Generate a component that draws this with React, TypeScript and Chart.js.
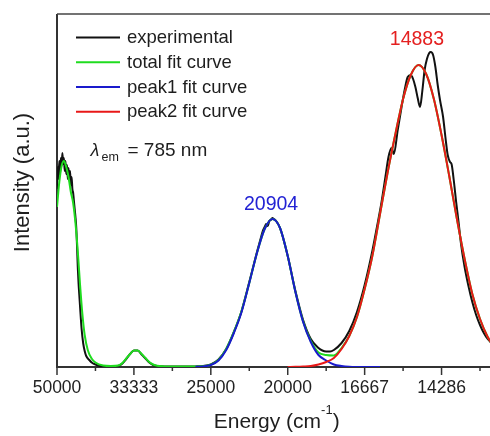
import React, { useEffect, useRef } from 'react';
import { Chart, registerables } from 'chart.js';

Chart.register(...registerables);

// ---------- data (x in nm, linear in wavelength; labels shown as energy in cm-1) ----------
const seriesNames = ['experimental', 'total fit curve', 'peak1 fit curve', 'peak2 fit curve'];
const seriesColors = ['#111111', '#1fdc1f', '#1a1acc', '#e81818'];

const majorTickNm = [200, 300, 400, 500, 600, 700];
const tickLabels = ['50000', '33333', '25000', '20000', '16667', '14286'];
const minorTickNm = [250, 350, 450, 550, 650, 750];

const experimentalNm = [
  200, 201, 202, 203, 204, 205, 206, 207, 208, 209, 210, 211, 212, 213, 214, 215, 216, 217, 218, 219,
  220, 221, 222, 223, 224, 225, 226, 227, 228, 229, 230, 232, 234, 236, 238, 242, 246, 250, 256, 265,
  275, 280, 285, 290, 295, 300, 305, 310, 315, 320, 325, 330, 340, 360, 380, 390, 400, 410, 420, 430,
  440, 450, 460, 465, 468, 470, 472, 474, 476, 478, 480, 482, 485, 490, 500, 510, 520, 530, 540, 545,
  550, 555, 560, 570, 580, 590, 600, 610, 616, 622, 627, 631, 635, 638, 643, 648, 652, 656, 660, 663,
  666, 669, 672, 675, 678, 681, 684, 686, 689, 692, 695, 698, 702, 705, 708, 711, 713, 716, 719, 722,
  725, 730, 735, 740, 745, 750, 755, 760, 765,
];
const experimental = [
  178, 200, 188, 206, 193, 209, 201, 214, 203, 209, 196, 206, 193, 202, 188, 199, 186, 196, 182, 190,
  178, 174, 166, 158, 150, 140, 122, 100, 84, 72, 60, 38, 24, 16, 11, 7, 4, 2.5, 1, 0.3,
  0.5, 1.2, 3.5, 8, 13, 16.5, 16.5, 12.5, 8.5, 4.5, 2, 1, 0.5, 0.4, 0.6, 1, 2.5, 7.5, 18, 35,
  56, 85, 115, 129, 137, 140, 143, 141, 146, 147, 149, 148, 146, 139, 111, 76, 47, 28, 19, 16.5,
  15.5, 15.5, 17, 24, 36, 55, 82, 116, 140, 165, 190, 210, 219, 213, 237, 260, 277, 290, 292, 288,
  280, 269, 260, 276, 297, 308, 314, 315, 312, 300, 282, 267, 250, 230, 212, 205, 203, 186, 165, 146,
  125, 100, 81, 65, 52, 42, 34, 28, 24,
];

const totalNm = [
  200, 203, 206, 209, 212, 215, 218, 221, 224, 227, 230, 233, 236, 240, 245, 250, 260, 270, 280, 285,
  290, 295, 300, 305, 310, 315, 320, 325, 330, 340, 350, 370, 390, 400, 410, 420, 430, 440, 450, 460,
  470, 480, 490, 500, 510, 520, 530, 540, 550, 560, 570, 580, 590, 600, 610, 620, 630, 640, 650, 660,
  670, 680, 690, 700, 710, 720, 730, 740, 750, 760, 765,
];
const totalFit = [
  160, 185, 201, 206, 200, 190, 175, 164, 144, 116, 82, 53, 32, 17, 8.5, 4.5, 1.5, 1, 1.5, 4,
  8.5, 13, 16.5, 16.5, 13, 9, 5, 2.5, 1.2, 0.6, 0.5, 0.5, 0.8, 2.3, 7, 18, 35, 56, 84, 114,
  138, 148, 139, 111, 75, 45.5, 26, 14.5, 12, 11.5, 19, 31, 50, 78, 111, 153, 195, 233, 268, 292,
  302, 293, 268, 232, 191, 148, 108, 73, 48, 30, 24,
];

const peak1Nm = [380, 390, 400, 410, 420, 430, 440, 450, 460, 470, 480, 490, 500, 510, 520, 530, 540, 550, 560, 570, 580, 600, 620];
const peak1Fit = [0.2, 0.6, 2, 6.5, 17, 34, 55, 84, 114, 138, 148, 139, 111, 75, 45, 25, 12, 6.5, 2.5, 1, 0.3, 0, 0];

const peak2Nm = [500, 510, 520, 530, 540, 550, 560, 570, 580, 590, 600, 610, 620, 630, 640, 650, 660, 670, 680, 690, 700, 710, 720, 730, 740, 750, 760, 765];
const peak2Fit = [0, 0.2, 0.5, 1, 2.5, 5, 9, 18, 31, 50, 78, 111, 153, 195, 233, 268, 292, 302, 293, 268, 232, 191, 148, 108, 73, 48, 30, 24];

const peakLabels = ['20904', '14883'];

// ---------- drawing helpers ----------
const FONT = '"Liberation Sans", Arial, Helvetica, sans-serif';
const TEXT = '#1e1e1e';

const toPoints = (xs: number[], ys: number[]) => xs.map((x, i) => ({ x, y: ys[i] }));

const decorPlugin = {
  id: 'decor',
  beforeDatasetsDraw(chart: any) {
    const { ctx, chartArea: a, scales } = chart;
    const xs = scales.x;
    ctx.save();
    ctx.strokeStyle = '#333';
    ctx.lineWidth = 2;
    ctx.beginPath();
    ctx.moveTo(a.left, a.top);
    ctx.lineTo(a.left, a.bottom + 1);
    ctx.stroke();
    ctx.beginPath();
    ctx.moveTo(a.left - 1, a.bottom);
    ctx.lineTo(a.right, a.bottom);
    ctx.stroke();
    ctx.strokeStyle = '#444';
    ctx.lineWidth = 1.5;
    ctx.beginPath();
    ctx.moveTo(a.left, a.top);
    ctx.lineTo(a.right, a.top);
    ctx.stroke();
    ctx.strokeStyle = '#333';
    ctx.lineWidth = 1.5;
    majorTickNm.forEach((v) => {
      const p = xs.getPixelForValue(v);
      ctx.beginPath();
      ctx.moveTo(p, a.bottom);
      ctx.lineTo(p, a.bottom + 8);
      ctx.stroke();
    });
    minorTickNm.forEach((v) => {
      const p = xs.getPixelForValue(v);
      ctx.beginPath();
      ctx.moveTo(p, a.bottom);
      ctx.lineTo(p, a.bottom + 4);
      ctx.stroke();
    });
    ctx.restore();
  },
  afterDraw(chart: any) {
    const { ctx, scales } = chart;
    const xs = scales.x;
    ctx.save();

    // legend
    const rows = [37.5, 62.3, 87, 111.7];
    chart.data.datasets.forEach((ds: any, i: number) => {
      ctx.strokeStyle = ds.borderColor;
      ctx.lineWidth = 2;
      ctx.beginPath();
      ctx.moveTo(76, rows[i]);
      ctx.lineTo(120, rows[i]);
      ctx.stroke();
      ctx.fillStyle = TEXT;
      ctx.font = `18.5px ${FONT}`;
      ctx.textAlign = 'left';
      ctx.textBaseline = 'middle';
      ctx.fillText(ds.label, 127, rows[i] + 0.5);
    });

    // lambda_em annotation
    ctx.textBaseline = 'alphabetic';
    ctx.textAlign = 'left';
    ctx.fillStyle = TEXT;
    ctx.font = `italic 18px ${FONT}`;
    ctx.fillText('λ', 90.5, 155.5);
    ctx.font = `12.5px ${FONT}`;
    ctx.fillText('em', 101.5, 160.5);
    ctx.font = `19px ${FONT}`;
    ctx.fillText('= 785 nm', 127.5, 155.7);

    // peak labels
    ctx.textAlign = 'center';
    ctx.textBaseline = 'middle';
    ctx.font = `19.5px ${FONT}`;
    ctx.fillStyle = '#2222d4';
    ctx.fillText(peakLabels[0], xs.getPixelForValue(1e7 / 20904), 204.5);
    ctx.fillStyle = '#e42020';
    ctx.fillText(peakLabels[1], xs.getPixelForValue(1e7 / 14883) - 3, 40);

    // y title
    ctx.save();
    ctx.translate(23, 182.5);
    ctx.rotate(-Math.PI / 2);
    ctx.fillStyle = TEXT;
    ctx.font = `22px ${FONT}`;
    ctx.textAlign = 'center';
    ctx.textBaseline = 'middle';
    ctx.fillText('Intensity (a.u.)', 0, 0);
    ctx.restore();

    // x title with superscript
    const main1 = 'Energy (cm';
    const sup = '-1';
    const main2 = ')';
    ctx.textAlign = 'left';
    ctx.textBaseline = 'alphabetic';
    ctx.fillStyle = TEXT;
    ctx.font = `21px ${FONT}`;
    const w1 = ctx.measureText(main1).width;
    const w3 = ctx.measureText(main2).width;
    ctx.font = `13px ${FONT}`;
    const w2 = ctx.measureText(sup).width;
    const start = 276.7 - (w1 + w2 + w3) / 2;
    ctx.font = `21px ${FONT}`;
    ctx.fillText(main1, start, 428);
    ctx.font = `13px ${FONT}`;
    ctx.fillText(sup, start + w1, 414);
    ctx.font = `21px ${FONT}`;
    ctx.fillText(main2, start + w1 + w2, 428);

    ctx.restore();
  },
};

export default function App() {
  const ref = useRef<HTMLCanvasElement>(null);

  useEffect(() => {
    if (!ref.current) return;
    const lineDs = (label: string, color: string, xs: number[], ys: number[], order: number) => ({
      label,
      data: toPoints(xs, ys),
      borderColor: color,
      backgroundColor: color,
      borderWidth: 2,
      pointRadius: 0,
      fill: false,
      cubicInterpolationMode: 'monotone' as const,
      order,
    });
    const chart = new Chart(ref.current, {
      type: 'line',
      data: {
        datasets: [
          lineDs(seriesNames[0], seriesColors[0], experimentalNm, experimental, 3),
          lineDs(seriesNames[1], seriesColors[1], totalNm, totalFit, 2),
          lineDs(seriesNames[2], seriesColors[2], peak1Nm, peak1Fit, 1),
          lineDs(seriesNames[3], seriesColors[3], peak2Nm, peak2Fit, 0),
        ],
      },
      options: {
        responsive: false,
        animation: false,
        devicePixelRatio: 1,
        layout: { padding: { top: 14, left: 0, right: 0, bottom: 0 } },
        plugins: {
          legend: { display: false },
          tooltip: { enabled: false },
          title: { display: false },
        },
        scales: {
          x: {
            type: 'linear',
            min: 200,
            max: 763,
            grid: { display: false, drawTicks: false },
            border: { display: false },
            afterBuildTicks: (s: any) => {
              s.ticks = majorTickNm.map((v) => ({ value: v }));
            },
            afterFit: (s: any) => {
              s.height = 69;
            },
            ticks: {
              autoSkip: false,
              maxRotation: 0,
              padding: 11,
              color: '#222',
              font: { family: FONT, size: 17.5 },
              callback: (_v: any, i: number) => tickLabels[i],
            },
          },
          y: {
            min: 0,
            max: 353,
            grid: { display: false },
            border: { display: false },
            ticks: { display: false },
            afterFit: (s: any) => {
              s.width = 57;
            },
          },
        },
      },
      plugins: [decorPlugin],
    } as any);
    return () => chart.destroy();
  }, []);

  return (
    <div style={{ position: 'absolute', left: 0, top: 0, width: 490, height: 436, background: '#fff' }}>
      <canvas ref={ref} width={490} height={436} style={{ display: 'block' }} />
    </div>
  );
}
